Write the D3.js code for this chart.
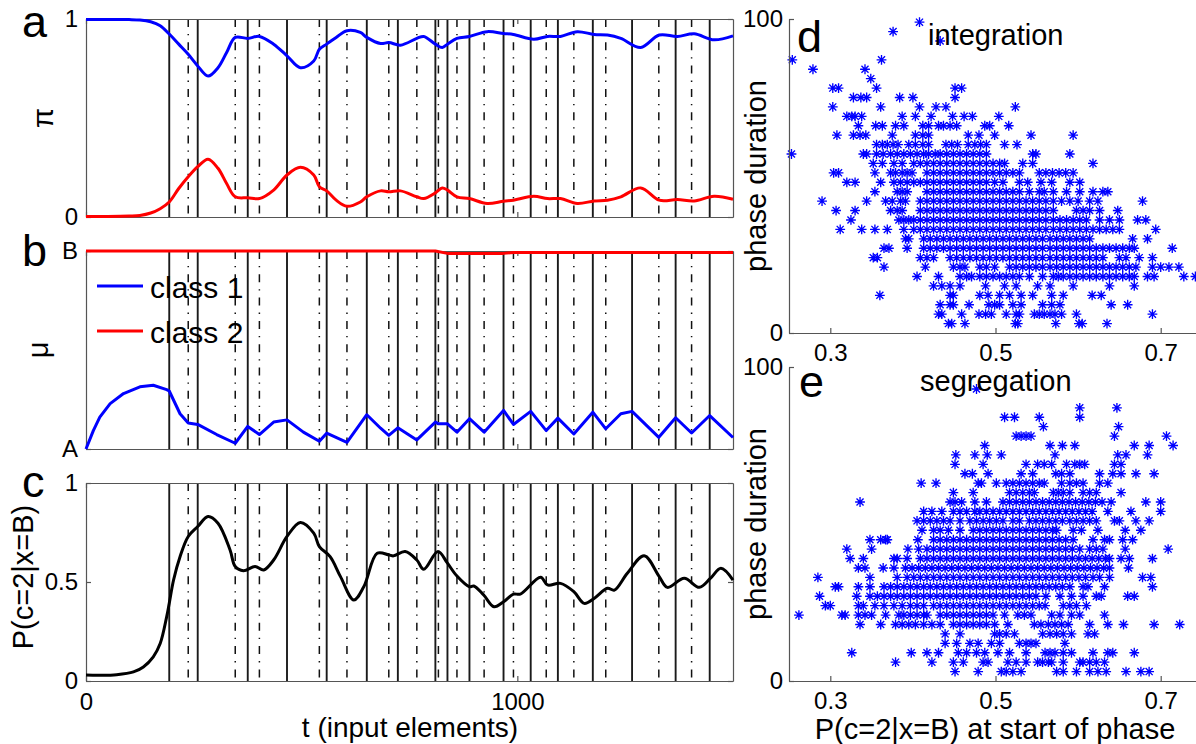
<!DOCTYPE html>
<html>
<head>
<meta charset="utf-8">
<script src="https://cdnjs.cloudflare.com/ajax/libs/d3/7.8.5/d3.min.js"></script>
<style>
  body { margin: 0; background: #fff; }
  svg { display: block; font-family: "Liberation Sans", Arial, Helvetica, sans-serif; }
  .axis text { font-size: 24px; fill: #000; font-family: "Liberation Sans", Arial, sans-serif; }
  .axis path, .axis line { stroke: #555; stroke-width: 1.2; }
</style>
</head>
<body>
<svg id="fig" width="1196" height="744"></svg>
<script>
// phase boundaries (t, input elements)
var solidT = [193, 259, 375, 466, 558, 651, 723, 810, 838, 889, 968, 1031, 1094, 1175, 1266, 1367, 1446]
var dashT = [237, 346, 402, 541, 605, 702, 767, 817, 860, 923, 991, 1067, 1131, 1205, 1328, 1404]

// a: pi
var tPi = [0,50,100,125,150,172,193,215,237,259,283,306,326,346,375,402,435,466,497,528,541,558,580,605,636,651,683,702,729,767,783,810,826,838,860,889,930,968,991,1038,1070,1100,1139,1178,1209,1240,1286,1329,1371,1410,1456,1500]
var piClass1 = [0.997,0.997,0.997,0.995,0.986,0.966,0.924,0.873,0.822,0.763,0.712,0.754,0.831,0.907,0.902,0.912,0.873,0.814,0.754,0.788,0.847,0.873,0.907,0.941,0.932,0.907,0.876,0.881,0.868,0.902,0.912,0.873,0.856,0.873,0.902,0.912,0.936,0.927,0.922,0.898,0.912,0.912,0.936,0.922,0.919,0.902,0.856,0.919,0.912,0.925,0.895,0.915]
var piClass2 = [0.003,0.003,0.005,0.008,0.020,0.042,0.076,0.144,0.203,0.254,0.292,0.246,0.169,0.102,0.097,0.093,0.136,0.212,0.251,0.212,0.153,0.132,0.085,0.054,0.076,0.102,0.132,0.127,0.132,0.102,0.093,0.122,0.147,0.136,0.102,0.093,0.068,0.080,0.085,0.105,0.093,0.093,0.068,0.081,0.085,0.102,0.147,0.085,0.088,0.081,0.105,0.090]

// b: mu (0 = A, 1 = B)
var tMu1 = [0,17,32,56,87,125,156,187,193,218,237,259,303,346,375,402,435,466,504,541,558,605,651,683,702,723,767,810,817,838,860,889,923,968,991,1031,1067,1094,1131,1175,1205,1240,1266,1328,1367,1404,1446,1500]
var muClass1 = [0,0.093,0.161,0.229,0.280,0.314,0.322,0.300,0.293,0.178,0.131,0.124,0.073,0.029,0.114,0.073,0.136,0.147,0.085,0.039,0.080,0.034,0.173,0.105,0.069,0.107,0.046,0.136,0.127,0.127,0.085,0.153,0.085,0.195,0.124,0.190,0.093,0.156,0.076,0.186,0.102,0.178,0.190,0.059,0.158,0.081,0.169,0.058]
var tMu2 = [0, 810, 838, 968, 991, 1500]
var muClass2 = [1, 1, 0.988, 0.988, 0.993, 0.993]

// c: P(c=2|x=B)
var tP = [0,32,71,110,133,156,172,187,193,203,218,237,259,283,306,334,346,365,392,412,435,466,497,528,541,566,590,621,644,675,702,713,740,767,783,816,838,860,889,899,922,946,968,991,1007,1054,1070,1100,1131,1155,1178,1209,1225,1255,1294,1329,1348,1387,1422,1448,1472,1500]
var pC2 = [0.030,0.029,0.032,0.046,0.071,0.122,0.189,0.324,0.392,0.510,0.628,0.730,0.780,0.831,0.797,0.662,0.578,0.557,0.578,0.561,0.611,0.730,0.801,0.747,0.679,0.628,0.527,0.409,0.476,0.645,0.637,0.632,0.654,0.611,0.564,0.654,0.595,0.530,0.476,0.480,0.434,0.375,0.400,0.439,0.439,0.524,0.485,0.493,0.451,0.392,0.417,0.468,0.459,0.544,0.632,0.527,0.473,0.519,0.473,0.519,0.569,0.510]

// d: integration phases, one row per duration
var integrationDur = [99,96,93,87,84,81,78,75,72,69,66,63,60,57,54,51,48,45,42,39,36,33,30,27,24,21,18,15,12,9,6,3]
var integrationX = [
  [0.408],
  [0.376],
  [0.433],
  [0.254,0.362],
  [0.279,0.342],
  [0.349],
  [0.303,0.310,0.356,0.451,0.459],
  [0.328,0.337,0.344,0.384,0.400,0.451],
  [0.303,0.361,0.408,0.428,0.440,0.524],
  [0.320,0.326,0.330,0.338,0.387,0.403,0.422,0.448,0.462,0.472,0.504],
  [0.334,0.355,0.363,0.379,0.389,0.412,0.419,0.431,0.437,0.445,0.453,0.487,0.493,0.516],
  [0.308,0.328,0.336,0.343,0.375,0.403,0.412,0.419,0.467,0.480,0.499,0.543,0.594],
  [0.356,0.363,0.369,0.376,0.382,0.395,0.403,0.412,0.419,0.440,0.447,0.454,0.467,0.475,0.482,0.489,0.511,0.526],
  [0.253,0.340,0.344,0.356,0.364,0.373,0.381,0.389,0.397,0.405,0.413,0.419,0.427,0.433,0.441,0.449,0.457,0.465,0.473,0.481,0.489,0.545,0.549,0.590],
  [0.352,0.363,0.377,0.387,0.401,0.409,0.417,0.425,0.433,0.441,0.449,0.457,0.465,0.473,0.481,0.489,0.497,0.505,0.511,0.533,0.545,0.618],
  [0.304,0.310,0.354,0.373,0.379,0.387,0.393,0.399,0.417,0.425,0.433,0.441,0.449,0.457,0.465,0.473,0.481,0.489,0.497,0.505,0.513,0.521,0.529,0.553,0.561,0.569,0.577,0.585,0.594],
  [0.320,0.330,0.361,0.377,0.385,0.393,0.401,0.409,0.417,0.425,0.433,0.441,0.449,0.457,0.465,0.473,0.481,0.489,0.499,0.509,0.529,0.539,0.555,0.568,0.590,0.602],
  [0.354,0.381,0.387,0.393,0.417,0.425,0.433,0.441,0.449,0.457,0.465,0.473,0.481,0.489,0.497,0.505,0.513,0.521,0.529,0.541,0.553,0.559,0.570,0.586,0.602,0.618,0.630,0.636],
  [0.290,0.344,0.367,0.375,0.385,0.391,0.409,0.417,0.425,0.433,0.441,0.449,0.457,0.465,0.473,0.481,0.489,0.497,0.505,0.513,0.521,0.529,0.537,0.545,0.553,0.561,0.570,0.580,0.590,0.600,0.614,0.624,0.678],
  [0.307,0.330,0.373,0.381,0.387,0.409,0.417,0.425,0.433,0.441,0.449,0.457,0.465,0.473,0.481,0.489,0.497,0.505,0.513,0.521,0.529,0.537,0.545,0.553,0.561,0.570,0.598,0.606,0.614,0.626,0.648],
  [0.325,0.383,0.389,0.395,0.401,0.409,0.417,0.425,0.433,0.441,0.449,0.457,0.465,0.473,0.481,0.489,0.497,0.505,0.513,0.521,0.529,0.537,0.545,0.553,0.561,0.570,0.578,0.586,0.594,0.602,0.610,0.626,0.638,0.650,0.672,0.682],
  [0.312,0.338,0.354,0.369,0.389,0.401,0.409,0.417,0.425,0.433,0.441,0.449,0.457,0.465,0.473,0.481,0.489,0.497,0.505,0.513,0.521,0.529,0.537,0.545,0.553,0.561,0.570,0.578,0.586,0.594,0.602,0.610,0.618,0.626,0.634,0.642,0.650,0.694],
  [0.391,0.395,0.413,0.421,0.429,0.437,0.445,0.453,0.461,0.469,0.477,0.485,0.493,0.501,0.509,0.517,0.525,0.533,0.541,0.549,0.557,0.566,0.574,0.582,0.590,0.598,0.606,0.614,0.666,0.684],
  [0.365,0.371,0.393,0.413,0.421,0.429,0.437,0.445,0.453,0.461,0.469,0.477,0.485,0.493,0.501,0.509,0.517,0.525,0.533,0.541,0.549,0.557,0.566,0.574,0.582,0.590,0.598,0.606,0.614,0.622,0.630,0.638,0.646,0.654,0.662,0.668,0.714],
  [0.352,0.357,0.409,0.417,0.425,0.445,0.453,0.461,0.469,0.477,0.485,0.493,0.501,0.509,0.517,0.525,0.533,0.541,0.549,0.557,0.566,0.574,0.582,0.590,0.598,0.606,0.614,0.622,0.630,0.650,0.658,0.674,0.690],
  [0.365,0.415,0.449,0.457,0.463,0.481,0.489,0.499,0.517,0.525,0.533,0.541,0.549,0.557,0.566,0.574,0.582,0.590,0.598,0.606,0.614,0.622,0.630,0.638,0.646,0.654,0.662,0.670,0.690,0.700,0.710,0.722],
  [0.405,0.431,0.457,0.465,0.471,0.481,0.489,0.497,0.505,0.513,0.521,0.529,0.541,0.557,0.570,0.576,0.582,0.590,0.598,0.606,0.614,0.622,0.630,0.638,0.646,0.654,0.662,0.668,0.684,0.692,0.728,0.742],
  [0.425,0.435,0.445,0.457,0.488,0.511,0.525,0.551,0.566,0.594,0.638,0.668],
  [0.360,0.445,0.449,0.481,0.491,0.505,0.517,0.531,0.545,0.568,0.582,0.617,0.628],
  [0.433,0.445,0.449,0.468,0.492,0.499,0.505,0.521,0.531,0.557,0.568,0.578,0.640,0.660],
  [0.431,0.435,0.459,0.480,0.488,0.495,0.513,0.525,0.529,0.547,0.553,0.559,0.566,0.572,0.580,0.598,0.690],
  [0.443,0.447,0.463,0.524,0.527,0.573,0.601,0.605,0.635]
]

// e: segregation phases, one row per duration
var segregationDur = [93,87,84,81,78,75,72,69,66,63,60,57,54,51,48,45,42,39,36,33,30,27,24,21,18,15,12,9,6,3]
var segregationX = [
  [0.477],
  [0.602,0.647],
  [0.511,0.523,0.553,0.602],
  [0.558,0.649],
  [0.525,0.531,0.537,0.543,0.644,0.707],
  [0.487,0.566,0.581,0.596,0.668,0.686,0.715],
  [0.452,0.475,0.490,0.507,0.572,0.648,0.658,0.684],
  [0.451,0.485,0.537,0.551,0.559,0.568,0.586,0.596,0.602,0.608,0.644,0.652],
  [0.463,0.472,0.491,0.531,0.545,0.573,0.580,0.590,0.626,0.642,0.652,0.670,0.692],
  [0.410,0.428,0.479,0.483,0.501,0.513,0.521,0.529,0.537,0.545,0.553,0.559,0.580,0.590,0.598,0.606,0.626,0.636],
  [0.449,0.473,0.517,0.525,0.533,0.541,0.547,0.570,0.576,0.582,0.590,0.606,0.614,0.622,0.652],
  [0.336,0.445,0.451,0.459,0.475,0.489,0.509,0.517,0.525,0.533,0.541,0.549,0.557,0.565,0.573,0.581,0.589,0.597,0.605,0.613,0.621,0.629,0.640,0.682,0.700],
  [0.413,0.423,0.435,0.449,0.457,0.465,0.475,0.481,0.489,0.497,0.505,0.513,0.521,0.529,0.537,0.545,0.553,0.561,0.569,0.577,0.585,0.593,0.601,0.609,0.617,0.636,0.664,0.700],
  [0.405,0.413,0.421,0.429,0.437,0.445,0.457,0.469,0.477,0.485,0.493,0.501,0.509,0.521,0.529,0.541,0.549,0.557,0.565,0.573,0.581,0.590,0.598,0.606,0.614,0.622,0.644,0.650,0.670,0.686],
  [0.411,0.425,0.433,0.443,0.457,0.473,0.481,0.489,0.497,0.505,0.513,0.521,0.529,0.537,0.545,0.553,0.561,0.569,0.574,0.594,0.604,0.624,0.657,0.676],
  [0.348,0.361,0.367,0.369,0.406,0.425,0.433,0.441,0.449,0.457,0.465,0.473,0.481,0.489,0.497,0.505,0.513,0.521,0.529,0.537,0.545,0.553,0.561,0.569,0.577,0.585,0.594,0.618,0.632,0.638,0.654,0.666],
  [0.320,0.350,0.394,0.407,0.417,0.425,0.433,0.441,0.449,0.457,0.465,0.473,0.481,0.489,0.497,0.505,0.513,0.521,0.529,0.537,0.545,0.553,0.561,0.569,0.577,0.585,0.593,0.602,0.614,0.622,0.630,0.657,0.709],
  [0.324,0.340,0.377,0.381,0.393,0.409,0.417,0.425,0.433,0.441,0.449,0.457,0.465,0.473,0.481,0.489,0.497,0.505,0.513,0.521,0.529,0.537,0.545,0.553,0.561,0.569,0.577,0.585,0.593,0.601,0.609,0.617,0.625,0.633,0.638,0.652,0.662,0.690],
  [0.334,0.342,0.364,0.377,0.391,0.399,0.407,0.415,0.423,0.431,0.439,0.447,0.455,0.463,0.471,0.479,0.487,0.495,0.503,0.511,0.519,0.527,0.535,0.543,0.551,0.559,0.567,0.575,0.583,0.591,0.599,0.607,0.615,0.623,0.631,0.638,0.661],
  [0.285,0.348,0.381,0.393,0.401,0.409,0.417,0.425,0.433,0.441,0.449,0.457,0.465,0.473,0.481,0.489,0.497,0.505,0.513,0.521,0.529,0.537,0.545,0.553,0.561,0.569,0.577,0.585,0.593,0.601,0.609,0.618,0.626,0.638,0.678,0.688],
  [0.306,0.310,0.334,0.348,0.365,0.373,0.381,0.389,0.397,0.405,0.413,0.421,0.429,0.437,0.445,0.453,0.461,0.469,0.477,0.485,0.493,0.501,0.509,0.517,0.525,0.533,0.541,0.549,0.557,0.565,0.573,0.581,0.590,0.606,0.612,0.632,0.690],
  [0.287,0.332,0.348,0.357,0.365,0.373,0.381,0.389,0.397,0.405,0.413,0.421,0.429,0.437,0.445,0.453,0.461,0.469,0.477,0.485,0.493,0.501,0.509,0.517,0.525,0.533,0.541,0.549,0.561,0.578,0.592,0.606,0.622,0.628,0.660,0.668],
  [0.294,0.300,0.334,0.340,0.354,0.365,0.377,0.387,0.397,0.405,0.413,0.425,0.433,0.441,0.449,0.457,0.465,0.473,0.481,0.489,0.497,0.505,0.513,0.521,0.529,0.537,0.545,0.553,0.560,0.582,0.590,0.598,0.610],
  [0.262,0.314,0.318,0.334,0.342,0.350,0.367,0.383,0.389,0.397,0.405,0.413,0.417,0.433,0.441,0.449,0.457,0.465,0.473,0.481,0.489,0.497,0.511,0.527,0.535,0.543,0.568,0.578,0.592,0.602,0.632],
  [0.336,0.361,0.379,0.387,0.395,0.403,0.413,0.423,0.433,0.449,0.457,0.465,0.473,0.481,0.489,0.499,0.515,0.547,0.555,0.564,0.572,0.580,0.588,0.614,0.636,0.655,0.692,0.723],
  [0.439,0.457,0.499,0.505,0.513,0.523,0.557,0.566,0.574,0.582,0.592,0.612,0.620],
  [0.439,0.453,0.469,0.479,0.495,0.505,0.529,0.537,0.543,0.549,0.584],
  [0.326,0.398,0.417,0.431,0.455,0.465,0.477,0.487,0.503,0.517,0.537,0.560,0.566,0.572,0.582,0.592,0.618,0.636,0.642,0.668],
  [0.379,0.423,0.449,0.461,0.485,0.491,0.515,0.525,0.537,0.551,0.557,0.564,0.568,0.582,0.602,0.606,0.614,0.622,0.632],
  [0.451,0.479,0.507,0.513,0.521,0.531,0.574,0.582,0.598,0.614,0.624,0.634,0.658,0.676,0.686]
]

var svg = d3.select('#fig')
var xT = d3.scaleLinear().domain([0, 1500]).range([86, 733])

function zip(a, b) { return a.map((v, i) => [v, b[i]]) }

// one of the three time panels: phase lines, frame with inward ticks
function timePanel(top, bottom, yTicks, yFmt, xLabels) {
  var y = d3.scaleLinear().domain([0, 1]).range([bottom, top])
  var g = svg.append('g')

  g.selectAll('.solid').data(solidT).enter().append('line')
    .attr('x1', d => xT(d)).attr('x2', d => xT(d))
    .attr('y1', top).attr('y2', bottom)
    .attr('stroke', '#1a1a1a').attr('stroke-width', 1.9)

  g.selectAll('.dashdot').data(dashT).enter().append('line')
    .attr('x1', d => xT(d)).attr('x2', d => xT(d))
    .attr('y1', top).attr('y2', bottom)
    .attr('stroke', '#111').attr('stroke-width', 1.5)
    .attr('stroke-dasharray', '8,7,1.3,7')

  var noLab = () => ''
  g.append('g').attr('class', 'axis').attr('transform', `translate(0,${bottom})`)
    .call(d3.axisBottom(xT).tickValues([0, 1000]).tickSize(-5).tickSizeOuter(0).tickPadding(12)
      .tickFormat(xLabels ? d3.format('d') : noLab))
  g.append('g').attr('class', 'axis').attr('transform', `translate(0,${top})`)
    .call(d3.axisTop(xT).tickValues([0, 1000]).tickSize(-5).tickSizeOuter(0).tickFormat(noLab))
  g.append('g').attr('class', 'axis').attr('transform', 'translate(86,0)')
    .call(d3.axisLeft(y).tickValues(yTicks).tickSize(-5).tickSizeOuter(0).tickPadding(8).tickFormat(yFmt))
  g.append('g').attr('class', 'axis').attr('transform', 'translate(733,0)')
    .call(d3.axisRight(y).tickValues(yTicks).tickSize(-5).tickSizeOuter(0).tickFormat(noLab))
  return {g: g, y: y}
}

function drawCurve(p, t, vals, colour, curve) {
  var line = d3.line().x(d => xT(d[0])).y(d => p.y(d[1])).curve(curve)
  p.g.append('path').datum(zip(t, vals))
    .attr('d', line).attr('fill', 'none')
    .attr('stroke', colour).attr('stroke-width', 3)
    .attr('stroke-linejoin', 'round')
}

var pa = timePanel(19, 217, [0, 1], d => String(d), false)
drawCurve(pa, tPi, piClass1, '#0000ff', d3.curveCatmullRom)
drawCurve(pa, tPi, piClass2, '#ff0000', d3.curveCatmullRom)

var pb = timePanel(251, 449, [0, 1], d => d ? 'B' : 'A', false)
drawCurve(pb, tMu1, muClass1, '#0000ff', d3.curveLinear)
drawCurve(pb, tMu2, muClass2, '#ff0000', d3.curveLinear)

var pc = timePanel(483, 681, [0, 0.5, 1], d => String(d), true)
drawCurve(pc, tP, pC2, '#000000', d3.curveCatmullRom)

// legend in b
var legend = [['class 1', '#0000ff', 286], ['class 2', '#ff0000', 331]]
legend.forEach(function(l) {
  svg.append('line').attr('x1', 97).attr('x2', 143).attr('y1', l[2]).attr('y2', l[2])
    .attr('stroke', l[1]).attr('stroke-width', 3)
  svg.append('text').attr('x', 150).attr('y', l[2] + 12).attr('font-size', '30px').text(l[0])
})

// asterisk marker, like matlab '*'
var asterisk = {
  draw: function(ctx, size) {
    var r = Math.sqrt(size) / 2, a = r * 0.72
    ctx.moveTo(-r, 0); ctx.lineTo(r, 0)
    ctx.moveTo(0, -r); ctx.lineTo(0, r)
    ctx.moveTo(-a, -a); ctx.lineTo(a, a)
    ctx.moveTo(-a, a); ctx.lineTo(a, -a)
  }
}
var star = d3.symbol().type(asterisk).size(96)

function scatterPanel(top, bottom, dur, xs, title, titleX, titleY) {
  var x = d3.scaleLinear().domain([0.25, 0.75]).range([789, 1202])
  var y = d3.scaleLinear().domain([0, 100]).range([bottom, top])
  var pts = []
  dur.forEach(function(v, i) { xs[i].forEach(function(px) { pts.push([px, v]) }) })

  var g = svg.append('g')
  g.selectAll('path.pt').data(pts).enter().append('path')
    .attr('class', 'pt')
    .attr('d', star)
    .attr('transform', d => `translate(${x(d[0])},${y(d[1])})`)
    .attr('fill', 'none').attr('stroke', '#0000ff').attr('stroke-width', 1.35)

  g.append('g').attr('class', 'axis').attr('transform', `translate(0,${bottom})`)
    .call(d3.axisBottom(x).tickValues([0.3, 0.5, 0.7]).tickSize(-5).tickSizeOuter(0).tickPadding(11)
      .tickFormat(d3.format('.1f')))
  g.append('g').attr('class', 'axis').attr('transform', 'translate(789,0)')
    .call(d3.axisLeft(y).tickValues([0, 100]).tickSize(-5).tickSizeOuter(0).tickPadding(6))

  g.append('text').attr('x', titleX).attr('y', titleY).attr('font-size', '29px').text(title)
  g.append('text').attr('transform', `translate(766,${(top + bottom) / 2}) rotate(-90)`)
    .attr('text-anchor', 'middle').attr('font-size', '29px').text('phase duration')
}

scatterPanel(19, 333, integrationDur, integrationX, 'integration', 928, 45)
scatterPanel(367, 681, segregationDur, segregationX, 'segregation', 920, 391)

// axis labels
svg.append('text').attr('transform', 'translate(53,118) rotate(-90)')
  .attr('text-anchor', 'middle').attr('font-size', '29px').text('π')
svg.append('text').attr('transform', 'translate(48,350) rotate(-90)')
  .attr('text-anchor', 'middle').attr('font-size', '29px').text('μ')
svg.append('text').attr('transform', 'translate(33,577) rotate(-90)')
  .attr('text-anchor', 'middle').attr('font-size', '29px').text('P(c=2|x=B)')
svg.append('text').attr('x', 410).attr('y', 737)
  .attr('text-anchor', 'middle').attr('font-size', '28px').text('t (input elements)')
svg.append('text').attr('x', 995).attr('y', 739)
  .attr('text-anchor', 'middle').attr('font-size', '29px').text('P(c=2|x=B) at start of phase')

// panel letters
var letters = [['a', 22, 37], ['b', 22, 266], ['c', 22, 497], ['d', 797, 52], ['e', 799, 397]]
svg.selectAll('.letter').data(letters).enter().append('text')
  .attr('class', 'letter')
  .attr('x', d => d[1]).attr('y', d => d[2])
  .attr('font-size', '45px').text(d => d[0])
</script>
</body>
</html>
